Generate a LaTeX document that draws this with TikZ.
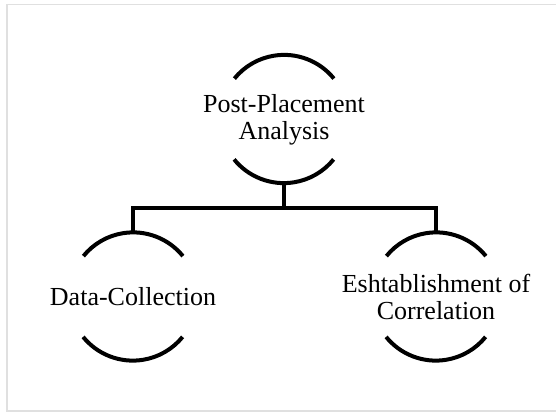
\documentclass[tikz,border=0pt]{standalone}
\usepackage{fontspec}
\setmainfont{Liberation Serif}
\begin{document}
\begin{tikzpicture}[x=1pt,y=1pt,
  hub/.style={circle,minimum size=128pt,inner sep=0pt,draw=none},
  lbl/.style={align=center,inner sep=0pt,font=\fontsize{26}{26.5}\selectfont},
  rim/.style={line width=4pt,black},
  link/.style={line width=4pt,black,line join=miter}]
\useasboundingbox (0,0) rectangle (556,412);
\draw[line width=1.5pt,draw=black!12] (560,407.5) -- (7,407.5) -- (7,1) -- (560,1);
\node[hub] (top) at (284,293) {};
\node[hub] (left) at (133,115.5) {};
\node[hub] (right) at (436,115.5) {};
\node[lbl] (toptext) at (284,292) {Post-Placement\\Analysis};
\node[lbl] (lefttext) at (133,115) {Data-Collection};
\node[lbl] (righttext) at (436,115) {Eshtablishment of\\Correlation};
\foreach \n in {top,left,right}{
  \draw[rim] (\n.39) arc[start angle=39,end angle=141,radius=64pt];
  \draw[rim] (\n.219) arc[start angle=219,end angle=321,radius=64pt];
}
\coordinate (bus) at (284,204);
\draw[link] (top.south) -- (top.south |- bus);
\draw[link] (left.north) -- (left.north |- bus) -- (right.north |- bus) -- (right.north);
\end{tikzpicture}
\end{document}
